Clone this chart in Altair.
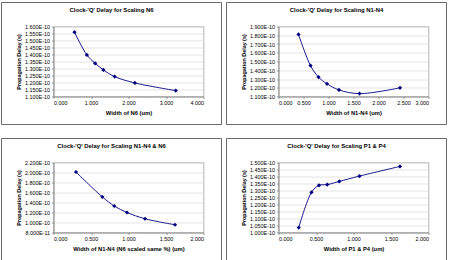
import altair as alt
import pandas as pd

# Clock-to-Q propagation delay (seconds) versus transistor width (um)
n6_width = [0.56, 0.89, 1.11, 1.33, 1.63, 2.17, 3.26]
n6_delay = [1.559e-10, 1.397e-10, 1.337e-10, 1.290e-10, 1.242e-10, 1.197e-10, 1.142e-10]

n1n4_width = [0.40, 0.64, 0.80, 0.97, 1.21, 1.62, 2.43]
n1n4_delay = [1.810e-10, 1.453e-10, 1.322e-10, 1.245e-10, 1.175e-10, 1.133e-10, 1.199e-10]

n1n4_n6_width = [0.30, 0.65, 0.81, 0.98, 1.22, 1.62]
n1n4_n6_delay = [2.010e-10, 1.513e-10, 1.330e-10, 1.200e-10, 1.075e-10, 0.955e-10]

p1p4_width = [0.27, 0.44, 0.54, 0.65, 0.81, 1.08, 1.62]
p1p4_delay = [1.035e-10, 1.287e-10, 1.337e-10, 1.342e-10, 1.365e-10, 1.403e-10, 1.472e-10]

# Axis tick positions
x_ticks_4 = [0, 1, 2, 3, 4]
x_ticks_3 = [0, 0.5, 1, 1.5, 2, 2.5, 3]
x_ticks_2 = [0, 0.5, 1, 1.5, 2]
y_ticks_n6 = [1.10e-10, 1.15e-10, 1.20e-10, 1.25e-10, 1.30e-10, 1.35e-10,
              1.40e-10, 1.45e-10, 1.50e-10, 1.55e-10, 1.60e-10]
y_ticks_n1n4 = [1.1e-10, 1.2e-10, 1.3e-10, 1.4e-10, 1.5e-10, 1.6e-10,
                1.7e-10, 1.8e-10, 1.9e-10]
y_ticks_both = [0.8e-10, 1.0e-10, 1.2e-10, 1.4e-10, 1.6e-10, 1.8e-10,
                2.0e-10, 2.2e-10]
y_ticks_p = [1.00e-10, 1.05e-10, 1.10e-10, 1.15e-10, 1.20e-10, 1.25e-10,
             1.30e-10, 1.35e-10, 1.40e-10, 1.45e-10, 1.50e-10]

FONT = "Liberation Sans"
NAVY = "#000080"
W, H = 150, 70

# Scientific labels such as 1.600E-10
SCI_LABEL = ("datum.value * 1e10 >= 0.9999 ? format(datum.value * 1e10, '.3f') + 'E-10'"
             " : format(datum.value * 1e11, '.3f') + 'E-11'")


def panel(title, widths, delays, x_title, x_ticks, y_ticks):
    df = pd.DataFrame({"width": widths, "delay": delays})
    x = alt.X("width:Q",
              scale=alt.Scale(domain=[x_ticks[0], x_ticks[-1]], nice=False, zero=False),
              axis=alt.Axis(values=x_ticks, format=".3f", title=x_title, grid=False,
                            titlePadding=4))
    y = alt.Y("delay:Q",
              scale=alt.Scale(domain=[y_ticks[0], y_ticks[-1]], nice=False, zero=False),
              axis=alt.Axis(values=y_ticks, labelExpr=SCI_LABEL,
                            title="Propagation Delay (s)", grid=True, titlePadding=3,
                            titleFontSize=5.4))
    base = alt.Chart(df)
    line = base.mark_line(color=NAVY, strokeWidth=0.9,
                          interpolate="catmull-rom").encode(x=x, y=y)
    pts = base.mark_point(shape="diamond", filled=True, color=NAVY, size=18,
                          opacity=1).encode(x=x, y=y)
    one = alt.Data(values=[{"k": 0}])
    # chart-area frame drawn around the plot, its title and axes
    frame = alt.Chart(one).mark_rect(fill="white", fillOpacity=0, stroke="#6b6b6b",
                                     strokeWidth=1).encode(
        x=alt.value(-52), x2=alt.value(168), y=alt.value(-24), y2=alt.value(98))
    head = alt.Chart(one).mark_text(font=FONT, fontSize=5.9, fontWeight="bold",
                                    align="center", baseline="middle",
                                    color="#000000").encode(
        x=alt.value(58), y=alt.value(-17), text=alt.value(title))
    return alt.layer(frame, head, line, pts).properties(width=W, height=H)


c1 = panel("Clock-'Q' Delay for Scaling N6", n6_width, n6_delay,
           "Width of N6 (um)", x_ticks_4, y_ticks_n6)
c2 = panel("Clock-'Q' Delay for Scaling N1-N4", n1n4_width, n1n4_delay,
           "Width of N1-N4 (um)", x_ticks_3, y_ticks_n1n4)
c3 = panel("Clock-'Q' Delay for Scaling N1-N4 & N6", n1n4_n6_width, n1n4_n6_delay,
           "Width of N1-N4 (N6 scaled same %) (um)", x_ticks_2, y_ticks_both)
c4 = panel("Clock-'Q' Delay for Scaling P1 & P4", p1p4_width, p1p4_delay,
           "Width of P1 & P4 (um)", x_ticks_2, y_ticks_p)

chart = alt.vconcat(
    alt.hconcat(c1, c2, spacing=3),
    alt.hconcat(c3, c4, spacing=3),
    spacing=12,
).properties(
    padding={"left": 0.5, "top": 1.5, "right": 0, "bottom": 0},
    background="white",
).configure_view(
    stroke="#a0a0a0", strokeWidth=0.8
).configure_axis(
    labelFont=FONT, labelFontSize=5.4, labelColor="#000000", labelPadding=2,
    titleFont=FONT, titleFontSize=5.8, titleFontWeight="bold", titleColor="#000000",
    domainColor="#808080", domainWidth=0.8, tickColor="#808080", tickSize=2,
    tickWidth=0.8, gridColor="#d9d9d9", gridWidth=0.7,
)

chart.save("out.html", embed_options={"renderer": "svg", "actions": False})
